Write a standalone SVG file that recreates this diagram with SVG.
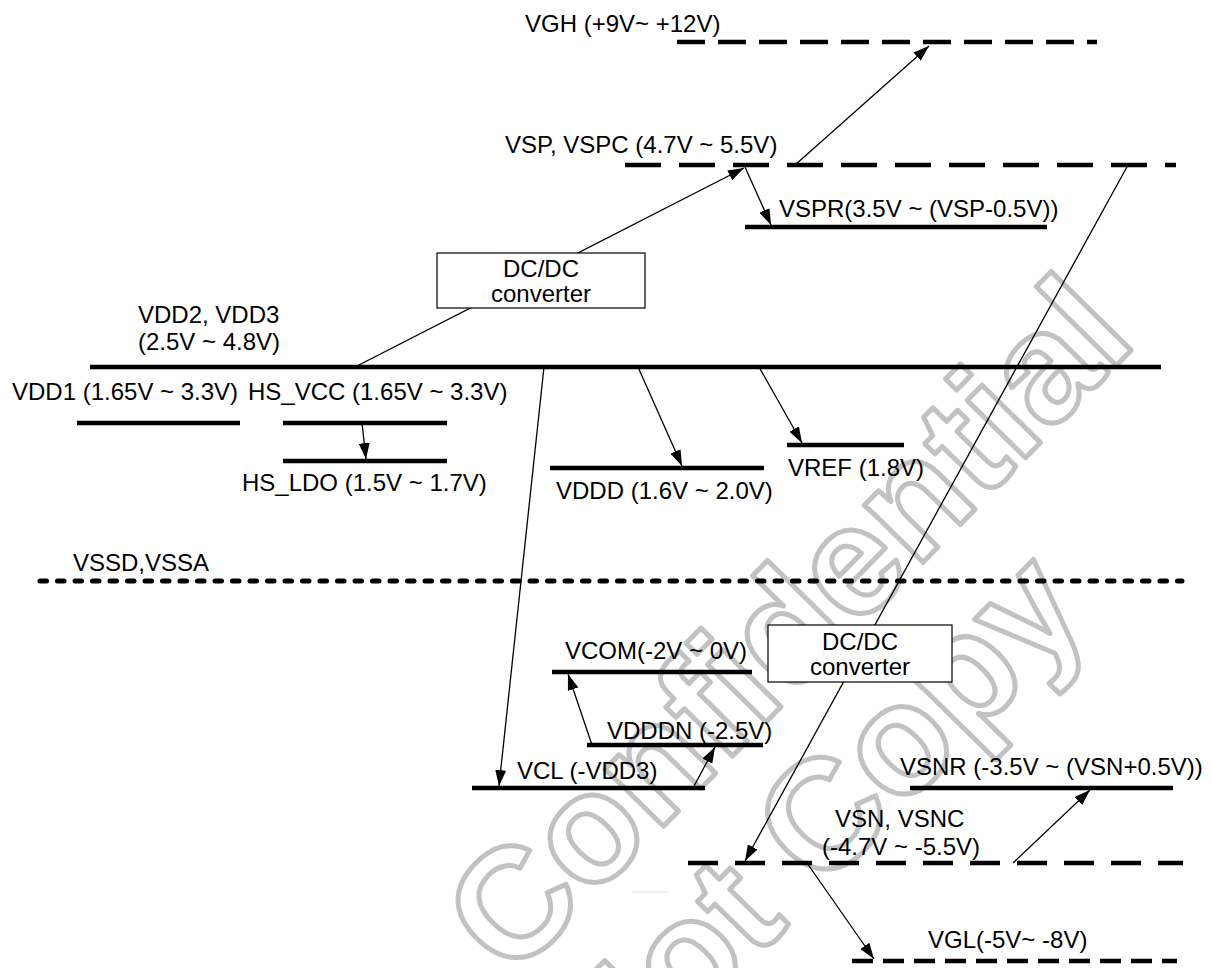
<svg xmlns="http://www.w3.org/2000/svg" width="1212" height="968" viewBox="0 0 1212 968">
<style>
.t{font-family:"Liberation Sans",Arial,sans-serif;font-size:24px;fill:#000}
.c{text-anchor:middle}
.rail{stroke:#000;stroke-width:4.5;fill:none}
.d1{stroke-dasharray:28 13}
.d2{stroke-dasharray:36 18}
.d3{stroke-dasharray:30 17}
.d4{stroke-dasharray:21 10}
.dot{stroke-width:5;stroke-linecap:round;stroke-dasharray:6.5 11}
.cn{stroke:#000;stroke-width:1.3;fill:none;marker-end:url(#ah)}
.box{fill:#fff;stroke:#000;stroke-width:1.2}
.wm{font-family:"Liberation Sans",Arial,sans-serif;font-weight:bold;font-size:155px;fill:none;stroke:#c2c2c2;stroke-width:5;stroke-linejoin:round;text-anchor:middle}
</style>
<defs>
<marker id="ah" markerWidth="16" markerHeight="11" refX="16" refY="5.5" orient="auto" markerUnits="userSpaceOnUse"><path d="M0,0 L16,5.5 L0,11 z" fill="#000"/></marker>
</defs>
<rect width="1212" height="968" fill="#fff"/>
<g id="watermark">
<text class="wm" transform="translate(825,662) rotate(-45.5)">Confidential</text>
<text class="wm" transform="translate(851,862) rotate(-45.5)">Not Copy</text>
<line x1="632" y1="892" x2="668" y2="892" stroke="#ddd" stroke-width="1"/>
</g>
<g id="connectors">
<line class="cn" x1="355" y1="367" x2="744" y2="168"/>
<line class="cn" x1="795" y1="165" x2="929" y2="46"/>
<line class="cn" x1="745" y1="167" x2="771" y2="225"/>
<line class="cn" x1="362" y1="423" x2="366" y2="459"/>
<line class="cn" x1="638" y1="367" x2="682" y2="466"/>
<line class="cn" x1="759" y1="367" x2="802" y2="443"/>
<line class="cn" x1="544" y1="367" x2="499" y2="786"/>
<line class="cn" x1="1128" y1="165" x2="745" y2="861"/>
<line class="cn" x1="592" y1="745" x2="568" y2="674"/>
<line class="cn" x1="693" y1="788" x2="715" y2="747"/>
<line class="cn" x1="1013" y1="863" x2="1090" y2="790"/>
<line class="cn" x1="807" y1="863" x2="874" y2="959"/>
</g>
<g id="vgh"><line class="rail d1" x1="677" y1="42" x2="1097" y2="42"/><text class="t" x="525" y="32">VGH (+9V~ +12V)</text></g>
<g id="vsp"><line class="rail d2" x1="625" y1="165" x2="1176" y2="165"/><text class="t" x="505" y="153">VSP, VSPC (4.7V ~ 5.5V)</text></g>
<g id="vspr"><line class="rail" x1="745" y1="227" x2="1047" y2="227"/><text class="t" x="779" y="217">VSPR(3.5V ~ (VSP-0.5V))</text></g>
<g id="vdd2"><line class="rail" x1="90" y1="367" x2="1161" y2="367"/><text class="t" x="138" y="323">VDD2, VDD3</text><text class="t" x="138" y="350">(2.5V ~ 4.8V)</text></g>
<g id="vdd1"><line class="rail" x1="77" y1="423" x2="240" y2="423"/><text class="t" x="12" y="400">VDD1 (1.65V ~ 3.3V)</text></g>
<g id="hs_vcc"><line class="rail" x1="283" y1="423" x2="447" y2="423"/><text class="t" x="248" y="400">HS_VCC (1.65V ~ 3.3V)</text></g>
<g id="hs_ldo"><line class="rail" x1="283" y1="461" x2="447" y2="461"/><text class="t" x="242" y="491">HS_LDO (1.5V ~ 1.7V)</text></g>
<g id="vddd"><line class="rail" x1="550" y1="468" x2="764" y2="468"/><text class="t" x="556" y="499">VDDD (1.6V ~ 2.0V)</text></g>
<g id="vref"><line class="rail" x1="787" y1="445" x2="904" y2="445"/><text class="t" x="788" y="476">VREF (1.8V)</text></g>
<g id="vss"><line class="rail dot" x1="40" y1="581" x2="1182" y2="581"/><text class="t" x="73" y="571">VSSD,VSSA</text></g>
<g id="vcom"><line class="rail" x1="552" y1="672" x2="752" y2="672"/><text class="t" x="565" y="659">VCOM(-2V ~ 0V)</text></g>
<g id="vdddn"><line class="rail" x1="587" y1="745" x2="763" y2="745"/><text class="t" x="607" y="739">VDDDN (-2.5V)</text></g>
<g id="vcl"><line class="rail" x1="472" y1="788" x2="705" y2="788"/><text class="t" x="517" y="779">VCL (-VDD3)</text></g>
<g id="vsnr"><line class="rail" x1="910" y1="788" x2="1173" y2="788"/><text class="t" x="900" y="775">VSNR (-3.5V ~ (VSN+0.5V))</text></g>
<g id="vsn"><line class="rail d3" x1="688" y1="863" x2="1183" y2="863"/><text class="t" x="835" y="827">VSN, VSNC</text><text class="t" x="822" y="855">(-4.7V ~ -5.5V)</text></g>
<g id="vgl"><line class="rail d4" x1="852" y1="961" x2="1177" y2="961"/><text class="t" x="928" y="948">VGL(-5V~ -8V)</text></g>
<g id="dcdc1"><rect class="box" x="437" y="253" width="208" height="55"/><text class="t c" x="541" y="277">DC/DC</text><text class="t c" x="541" y="302">converter</text></g>
<g id="dcdc2"><rect class="box" x="768" y="625" width="184" height="57"/><text class="t c" x="860" y="650">DC/DC</text><text class="t c" x="860" y="675">converter</text></g>
</svg>
